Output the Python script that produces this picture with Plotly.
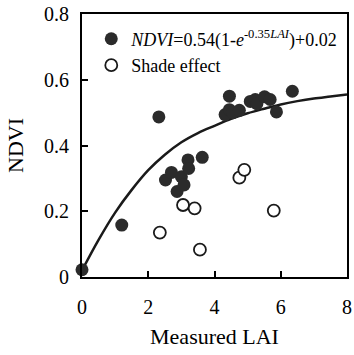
import plotly.graph_objects as go

# Filled points (fit data)
fit_lai = [0.0, 1.2, 2.32, 2.52, 2.70, 2.87, 3.00, 3.08, 3.20, 3.22, 3.63,
           4.32, 4.45, 4.45, 4.55, 4.75, 5.08, 5.23, 5.28, 5.51, 5.68, 5.87, 6.35]
fit_ndvi = [0.022, 0.158, 0.487, 0.295, 0.318, 0.26, 0.305, 0.28, 0.356, 0.33, 0.364,
            0.494, 0.55, 0.509, 0.50, 0.507, 0.534, 0.54, 0.527, 0.548, 0.54, 0.502, 0.565]

# Open points (shade effect)
shade_lai = [2.35, 3.05, 3.40, 3.56, 4.75, 4.90, 5.79]
shade_ndvi = [0.135, 0.219, 0.209, 0.083, 0.302, 0.326, 0.202]

# Fitted curve as drawn
curve_lai = [0.0, 0.5, 1.0, 1.5, 2.0, 2.5, 3.0, 3.5, 4.0, 4.5, 5.0, 5.5, 6.0, 6.5, 7.0, 7.5, 8.0]
curve_ndvi = [0.02, 0.113, 0.196, 0.265, 0.325, 0.372, 0.41, 0.438, 0.46, 0.481, 0.498,
              0.512, 0.525, 0.535, 0.543, 0.549, 0.555]

x_ticks = [0, 2, 4, 6, 8]
y_ticks = [0, 0.2, 0.4, 0.6, 0.8]
y_tick_text = ["0", "0.2", "0.4", "0.6", "0.8"]

FONT = "Liberation Serif"

fig = go.Figure()
fig.add_trace(go.Scatter(
    x=curve_lai, y=curve_ndvi, mode="lines",
    line=dict(color="#1a1a1a", width=2.5, shape="spline"),
    showlegend=False, hoverinfo="skip"))
fig.add_trace(go.Scatter(
    x=fit_lai, y=fit_ndvi, mode="markers",
    marker=dict(size=13, color="#2b2b2b", line=dict(width=0)),
    name="<i>NDVI</i>=0.54(1-<i>e</i><sup>-0.35<i>LAI</i></sup>)+0.02",
    cliponaxis=False))
fig.add_trace(go.Scatter(
    x=shade_lai, y=shade_ndvi, mode="markers",
    marker=dict(size=12, color="white", line=dict(width=1.8, color="#1a1a1a")),
    name="Shade effect", cliponaxis=False))

fig.update_layout(
    width=354, height=355,
    margin=dict(l=82, r=7, t=14, b=78, autoexpand=False),
    paper_bgcolor="white", plot_bgcolor="white",
    font=dict(family=FONT, size=20, color="black"),
    legend=dict(x=0.035, y=0.975, xanchor="left", yanchor="top",
                bgcolor="rgba(0,0,0,0)", font=dict(family=FONT, size=18),
                itemwidth=30, tracegroupgap=0),
    xaxis=dict(range=[0, 8], tickvals=x_ticks, ticks="inside", ticklen=6,
               tickwidth=1.5, tickcolor="black", showline=True, linewidth=2,
               linecolor="black", mirror=True, showgrid=False, zeroline=False,
               ticklabelstandoff=11, tickfont=dict(family=FONT, size=20),
               title=dict(text="Measured LAI", standoff=12,
                          font=dict(size=22, family=FONT))),
    yaxis=dict(range=[0, 0.8], tickvals=y_ticks, ticktext=y_tick_text,
               ticks="inside", ticklen=6, tickwidth=1.5, tickcolor="black",
               showline=True, linewidth=2, linecolor="black", mirror=True,
               showgrid=False, zeroline=False, ticklabelstandoff=7,
               tickfont=dict(family=FONT, size=20),
               title=dict(text="NDVI", standoff=14, font=dict(size=22, family=FONT))),
)

fig.write_html("out.html")
